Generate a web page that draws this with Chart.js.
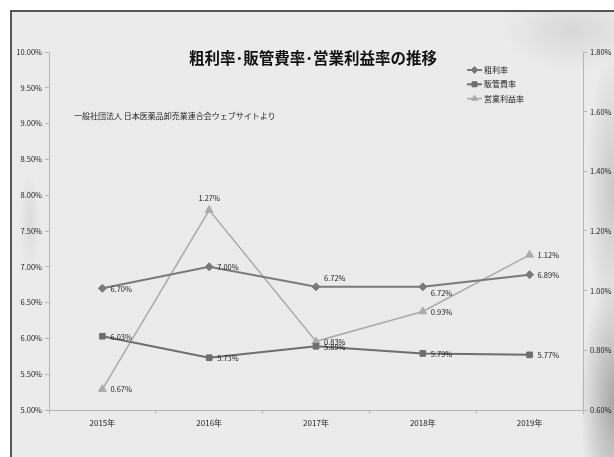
<!DOCTYPE html>
<html>
<head>
<meta charset="utf-8">
<script src="https://cdn.jsdelivr.net/npm/chart.js@4.4.0/dist/chart.umd.min.js"></script>
<style>
  html, body { margin: 0; padding: 0; background: #fff; overflow: hidden; }
  #frame {
    position: absolute; left: 10px; top: 10px; width: 620px; height: 460px;
    border-left: 2px solid #555; border-top: 2px solid #555;
    background:
      radial-gradient(ellipse 26px 140px at 600px 180px, rgba(150,150,150,0.4), rgba(150,150,150,0) 100%),
      radial-gradient(ellipse 34px 120px at 602px 390px, rgba(120,120,120,0.6), rgba(120,120,120,0) 100%),
      radial-gradient(ellipse 70px 40px at 560px 18px, rgba(170,170,170,0.3), rgba(170,170,170,0) 100%),
      radial-gradient(ellipse 10px 50px at 18px 210px, rgba(170,170,170,0.25), rgba(170,170,170,0) 100%),
      #ebebeb;
  }
  #wrap { position: absolute; left: 0; top: 0; width: 614px; height: 457px; }
</style>
</head>
<body>
<div id="frame"></div>
<div id="wrap"><canvas id="chart" width="614" height="457"></canvas></div>
<script>
const years = ['2015年', '2016年', '2017年', '2018年', '2019年'];
const grossMargin = [6.70, 7.00, 6.72, 6.72, 6.89];   // 粗利率
const sgaRatio = [6.03, 5.73, 5.89, 5.79, 5.77];      // 販管費率
const opMargin = [0.67, 1.27, 0.83, 0.93, 1.12];      // 営業利益率
const leftTicks = [5, 10, 0.5];
const rightTicks = [0.6, 1.8, 0.2];

// where each value label sits relative to its point
const labelPlace = [
  ['right', 'right', 'aboveRight', 'below', 'right'],
  ['right', 'right', 'right', 'right', 'right'],
  ['right', 'above', 'right', 'right', 'right']
];

const FONT = '"Noto Sans CJK JP", "Noto Sans", sans-serif';
const pct = v => v.toFixed(2) + '%';

const valueLabels = {
  id: 'valueLabels',
  afterDatasetsDraw(chart) {
    const ctx = chart.ctx;
    ctx.save();
    ctx.font = '7.5px ' + FONT;
    ctx.fillStyle = '#222';
    chart.data.datasets.forEach((ds, di) => {
      const meta = chart.getDatasetMeta(di);
      meta.data.forEach((pt, i) => {
        const p = labelPlace[di][i];
        let x = pt.x, y = pt.y;
        ctx.textAlign = 'left';
        ctx.textBaseline = 'middle';
        if (p === 'right') { x += 8; y += 0.5; }
        else if (p === 'above') { ctx.textAlign = 'center'; y -= 12; }
        else if (p === 'aboveRight') { x += 8; y -= 9; }
        else if (p === 'below') { x += 8; y += 6; }
        ctx.fillText(pct(ds.data[i]), x, y);
      });
    });
    ctx.restore();
  }
};

const decorations = {
  id: 'decorations',
  afterDraw(chart) {
    const ctx = chart.ctx;
    ctx.save();
    // title
    ctx.font = 'bold 15.5px ' + FONT;
    ctx.fillStyle = '#111';
    ctx.textAlign = 'center';
    ctx.textBaseline = 'middle';
    ctx.fillText('粗利率･販管費率･営業利益率の推移', 313, 58);
    // source note
    ctx.font = '8px ' + FONT;
    ctx.textAlign = 'left';
    ctx.fillStyle = '#222';
    ctx.fillText('一般社団法人 日本医薬品卸売業連合会ウェブサイトより', 74, 116);
    // legend
    chart.data.datasets.forEach((ds, di) => {
      const y = 70 + di * 14.3;
      ctx.strokeStyle = ds.borderColor;
      ctx.fillStyle = ds.backgroundColor;
      ctx.lineWidth = ds.borderWidth;
      ctx.beginPath();
      ctx.moveTo(467, y);
      ctx.lineTo(482, y);
      ctx.stroke();
      ctx.lineWidth = 1;
      Chart.helpers.drawPoint(ctx, { pointStyle: ds.pointStyle, radius: 3.5, borderWidth: 1 }, 474.5, y);
      ctx.fillStyle = '#222';
      ctx.fillText(ds.label, 484, y);
    });
    ctx.restore();
  }
};

new Chart(document.getElementById('chart'), {
  type: 'line',
  data: {
    labels: years,
    datasets: [
      {
        label: '粗利率', data: grossMargin, yAxisID: 'y',
        borderColor: '#7a7a7a', backgroundColor: '#7a7a7a', borderWidth: 2,
        pointStyle: 'rectRot', pointRadius: 4, pointBorderWidth: 1
      },
      {
        label: '販管費率', data: sgaRatio, yAxisID: 'y',
        borderColor: '#6e6e6e', backgroundColor: '#6e6e6e', borderWidth: 2,
        pointStyle: 'rect', pointRadius: 4, pointBorderWidth: 1
      },
      {
        label: '営業利益率', data: opMargin, yAxisID: 'y1',
        borderColor: '#ababab', backgroundColor: '#ababab', borderWidth: 1.6,
        pointStyle: 'triangle', pointRadius: 4.5, pointBorderWidth: 1
      }
    ]
  },
  options: {
    responsive: false,
    animation: false,
    events: [],
    layout: { padding: { top: 52, left: 0, right: 0, bottom: 0 } },
    plugins: { legend: { display: false }, tooltip: { enabled: false }, title: { display: false } },
    scales: {
      x: {
        offset: true,
        grid: { offset: true, drawOnChartArea: false, drawTicks: true, tickLength: 4, color: '#b5b5b5' },
        border: { color: '#b5b5b5' },
        ticks: { color: '#222', font: { family: FONT, size: 8 }, padding: 4, maxRotation: 0 },
        afterFit(s) { s.height = 47; }
      },
      y: {
        position: 'left',
        min: leftTicks[0], max: leftTicks[1],
        grid: { drawOnChartArea: false, drawTicks: true, tickLength: 4, color: '#b5b5b5' },
        border: { color: '#b5b5b5' },
        ticks: { stepSize: leftTicks[2], color: '#222', font: { family: FONT, size: 7.5 }, padding: 3, callback: v => pct(v) },
        afterFit(s) { s.width = 49; }
      },
      y1: {
        position: 'right',
        min: rightTicks[0], max: rightTicks[1],
        grid: { drawOnChartArea: false, drawTicks: true, tickLength: 4, color: '#b5b5b5' },
        border: { color: '#b5b5b5' },
        ticks: { stepSize: rightTicks[2], color: '#222', font: { family: FONT, size: 7.5 }, padding: 3, callback: v => pct(v) },
        afterFit(s) { s.width = 31; }
      }
    }
  },
  plugins: [valueLabels, decorations]
});
</script>
</body>
</html>
